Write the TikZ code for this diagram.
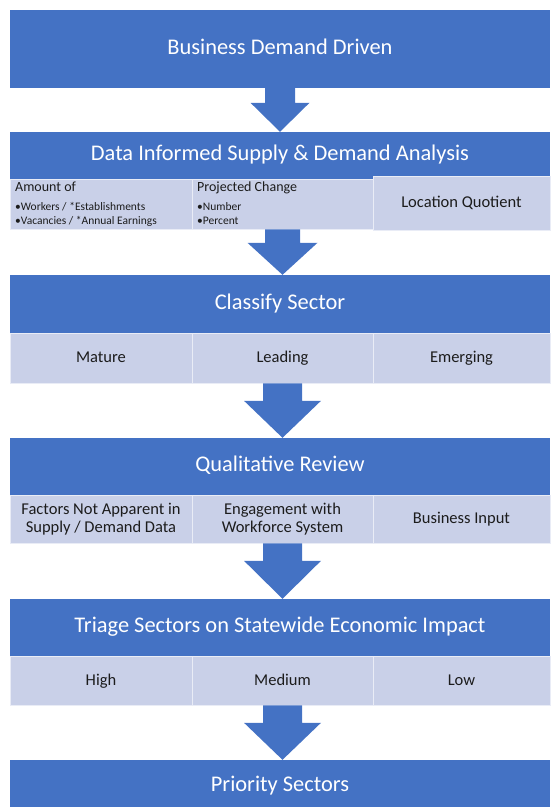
\documentclass[tikz,border=0pt]{standalone}
\usepackage{fontspec}
\setmainfont{Carlito}
\usetikzlibrary{calc}

\definecolor{hdblue}{RGB}{68,114,196}
\definecolor{rowblue}{RGB}{201,208,232}
\definecolor{rowtext}{RGB}{28,28,28}

\tikzset{
  header/.style={fill=hdblue, text=white, minimum width=540pt, inner sep=0pt,
    text height=1.02em, text depth=0pt, font=\fontsize{22.4}{26}\selectfont},
  cell/.style={fill=rowblue, draw=white!60!rowblue, line width=0.6pt, text=rowtext,
    inner sep=0pt, align=center, text height=0.9em, text depth=0pt,
    font=\fontsize{16.5}{17.5}\selectfont},
  twoline/.style={text height={}, text depth={}},
  celltitle/.style={text=rowtext, inner sep=0pt, anchor=base west,
    font=\fontsize{14}{16}\selectfont},
  bullets/.style={text=rowtext, inner sep=0pt, anchor=base west,
    font=\fontsize{11.5}{13}\selectfont},
  flow/.style={fill=hdblue},
}

% block arrow: from, to, shaft half width, head half width, head length
\newcommand{\flowarrow}[5]{%
  \fill[flow] ($(#1.south)+(-#3,0)$) -- ($(#1.south)+(#3,0)$)
    -- ($(#1.south |- #2.north)+(#3,-#5)$) -- ($(#1.south |- #2.north)+(#4,-#5)$)
    -- (#1.south |- #2.north)
    -- ($(#1.south |- #2.north)+(-#4,-#5)$) -- ($(#1.south |- #2.north)+(-#3,-#5)$)
    -- cycle;
}

\begin{document}
\begin{tikzpicture}[x=1pt, y=-1pt]
    \useasboundingbox (0,0) rectangle (550,807);

    % headers
    \node[header, minimum height=78pt] (demand) at (280,49) {Business Demand Driven};
    \node[header, minimum height=47pt] (analysis) at (280,155.5) {Data Informed Supply \& Demand Analysis};
    \node[header, minimum height=58pt] (classify) at (280,304) {Classify Sector};
    \node[header, minimum height=57pt] (review) at (280,466.5) {Qualitative Review};
    \node[header, minimum height=57pt] (triage) at (280,627.5) {Triage Sectors on Statewide Economic Impact};
    \node[header, minimum height=52pt] (priority) at (280,786) {Priority Sectors};

    % data row
    \node[cell, minimum width=182pt, minimum height=50pt] (amount) at (101,204) {};
    \node[cell, minimum width=181pt, minimum height=50pt] (projected) at (282.5,204) {};
    \node[cell, minimum width=177pt, minimum height=54pt] (locq) at (461.5,203) {Location Quotient};

    \node[celltitle] (amttitle) at (15,191) {Amount of};
    \node[bullets] (amta) at (15,210.5) {•Workers / *Establishments};
    \node[bullets] (amtb) at (15,224.5) {•Vacancies / *Annual Earnings};
    \node[celltitle] (projtitle) at (197,191) {Projected Change};
    \node[bullets] (proja) at (197,210.5) {•Number};
    \node[bullets] (projb) at (197,224.5) {•Percent};

    % sector row
    \node[cell, minimum width=182pt, minimum height=50pt] (mature) at (101,358) {Mature};
    \node[cell, minimum width=181pt, minimum height=50pt] (leading) at (282.5,358) {Leading};
    \node[cell, minimum width=177pt, minimum height=50pt] (emerging) at (461.5,358) {Emerging};

    % review row
    \node[cell, twoline, minimum width=182pt, minimum height=48pt] (factors) at (101,519) {Factors Not Apparent in\\Supply / Demand Data};
    \node[cell, twoline, minimum width=181pt, minimum height=48pt] (engage) at (282.5,519) {Engagement with\\Workforce System};
    \node[cell, minimum width=177pt, minimum height=48pt] (bizinput) at (461.5,519) {Business Input};

    % impact row
    \node[cell, minimum width=182pt, minimum height=49pt] (high) at (101,680.5) {High};
    \node[cell, minimum width=181pt, minimum height=49pt] (medium) at (282.5,680.5) {Medium};
    \node[cell, minimum width=177pt, minimum height=49pt] (low) at (461.5,680.5) {Low};

    % arrows
    \flowarrow{demand}{analysis}{15}{29.5}{29}
    \flowarrow{projected}{classify}{17.5}{35}{32}
    \flowarrow{leading}{review}{19.5}{38.5}{37}
    \flowarrow{engage}{triage}{19.5}{38.5}{38}
    \flowarrow{medium}{priority}{19.5}{38.5}{37}

\end{tikzpicture}
\end{document}
